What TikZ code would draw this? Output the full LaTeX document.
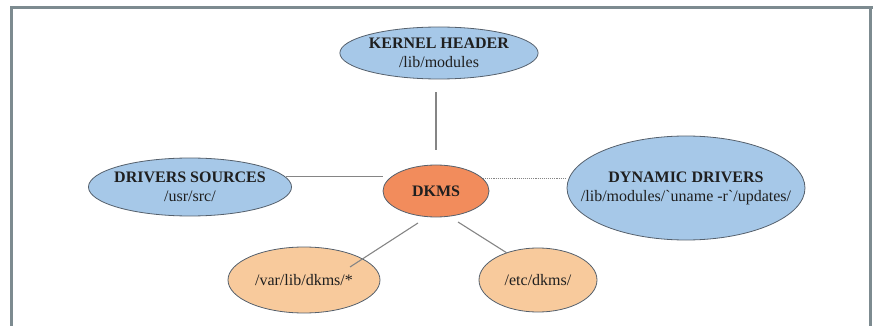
\documentclass[tikz,border=0pt]{standalone}
\usepackage{fontspec}
\setmainfont{Liberation Serif}
\usepackage{tikz}
\usetikzlibrary{shapes.geometric}

\definecolor{framegray}{HTML}{7D8B90}
\definecolor{blobblue}{HTML}{A6C8E8}
\definecolor{bloborange}{HTML}{F28C5C}
\definecolor{blobpeach}{HTML}{F8CA9C}
\definecolor{blobedge}{HTML}{55606C}
\definecolor{linkgray}{HTML}{858585}

\tikzset{
  blob/.style={ellipse, draw=blobedge, line width=0.8pt, inner sep=0pt,
    align=center, text=black!88, font=\fontsize{16}{19}\selectfont},
  dirblob/.style={blob, fill=blobblue},
  coreblob/.style={blob, fill=bloborange},
  dataBlob/.style={blob, fill=blobpeach},
  link/.style={draw=linkgray, line width=1.1pt},
}

\begin{document}
\begin{tikzpicture}[x=1pt,y=-1pt]

  % Page size of the reference
  \useasboundingbox (0,0) rectangle (873,326);

  %%%%%%%%%%%%%%%%%%%%%%%%%%%%%%%%%%%%%%%%%%%%%%%%%%%%%%%%%%%%%%%%%%%%%%%%%%%%5
  %% The frame round the figure
  %%%%%%%%%%%%%%%%%%%%%%%%%%%%%%%%%%%%%%%%%%%%%%%%%%%%%%%%%%%%%%%%%%%%%%%%%%%%5

  \draw [framegray, line width=3pt] (11.5,326) -- (11.5,7.5) -- (873,7.5);
  \draw [framegray, line width=3pt] (870.5,7.5) -- (870.5,326);

  %%%%%%%%%%%%%%%%%%%%%%%%%%%%%%%%%%%%%%%%%%%%%%%%%%%%%%%%%%%%%%%%%%%%%%%%%%%%5
  %% The ellipses
  %%%%%%%%%%%%%%%%%%%%%%%%%%%%%%%%%%%%%%%%%%%%%%%%%%%%%%%%%%%%%%%%%%%%%%%%%%%%5

  % Directories of the kernel side
  \node [dirblob, minimum width=196pt, minimum height=52pt] (kernel) at (439,53)
    {\textbf{KERNEL HEADER}\\/lib/modules};
  \node [dirblob, inner xsep=-4pt, minimum width=202pt, minimum height=58pt] (sources) at (190,187)
    {\textbf{DRIVERS SOURCES}\\/usr/src/};
  \node [dirblob, inner xsep=-24pt, minimum width=238pt, minimum height=104pt] (dynamic) at (686,188)
    {\textbf{DYNAMIC DRIVERS}\\/lib/modules/\textasciigrave uname -r\textasciigrave/updates/};

  % The centre
  \node [coreblob, minimum width=106pt, minimum height=52pt] (dkms) at (436,191)
    {\textbf{DKMS}};

  % Own data of dkms
  \node [dataBlob, minimum width=152pt, minimum height=66pt] (varlib) at (304,280)
    {/var/lib/dkms/*};
  \node [dataBlob, minimum width=118pt, minimum height=64pt] (etcdkms) at (538,280)
    {/etc/dkms/};

  %%%%%%%%%%%%%%%%%%%%%%%%%%%%%%%%%%%%%%%%%%%%%%%%%%%%%%%%%%%%%%%%%%%%%%%%%%%%5
  %% The links
  %%%%%%%%%%%%%%%%%%%%%%%%%%%%%%%%%%%%%%%%%%%%%%%%%%%%%%%%%%%%%%%%%%%%%%%%%%%%5

  \draw [link, shorten <=13pt, shorten >=15pt] (kernel.south -| dkms.north) -- (dkms.north);
  \draw [link] (sources.6) -- (sources.6 -| dkms.west);
  \draw [link, densely dotted] (dkms.15) -- (dkms.15 -| dynamic.west);
  \draw [link] ([shift={(-18,32)}]dkms.center) -- ([shift={(46,-13)}]varlib.center);
  \draw [link] ([shift={(22,31)}]dkms.center) -- ([shift={(-31,-27)}]etcdkms.center);

\end{tikzpicture}
\end{document}
